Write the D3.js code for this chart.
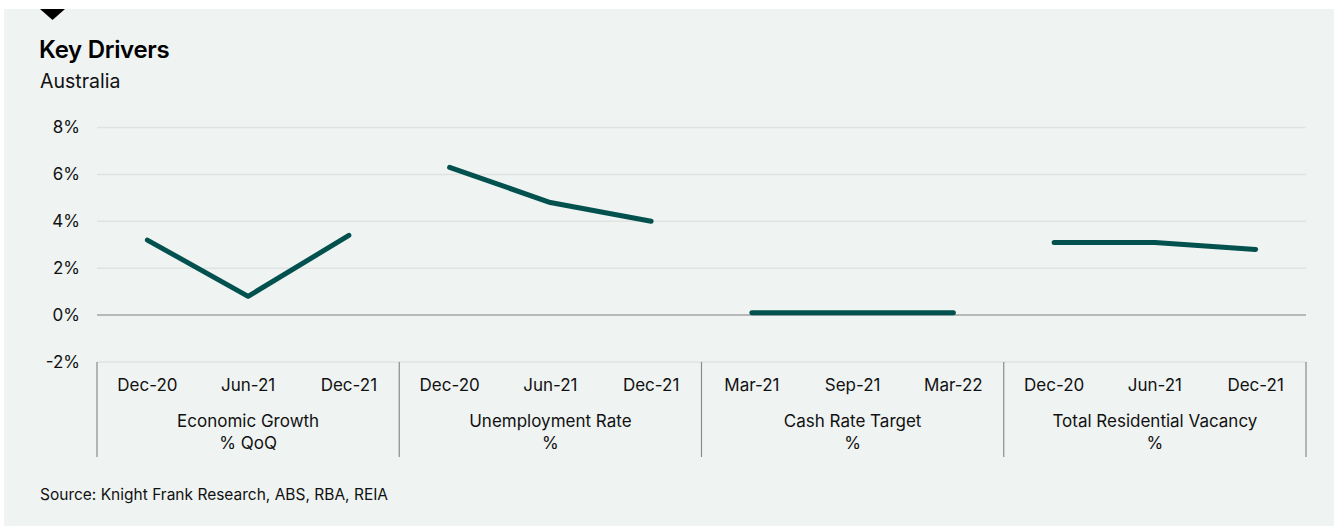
<!DOCTYPE html>
<html><head><meta charset="utf-8">
<script src="https://cdn.jsdelivr.net/npm/d3@7"></script>
<style>
html,body{margin:0;padding:0;background:#fff;}
svg{display:block;font-family:Inter,"Noto Sans",sans-serif;}
</style></head>
<body><svg id="c" width="1336" height="528"></svg>
<script>
const groups = ["Economic Growth", "Unemployment Rate", "Cash Rate Target", "Total Residential Vacancy"];
const groupUnits = ["% QoQ", "%", "%", "%"];
const periods = [
  ["Dec-20", "Jun-21", "Dec-21"],
  ["Dec-20", "Jun-21", "Dec-21"],
  ["Mar-21", "Sep-21", "Mar-22"],
  ["Dec-20", "Jun-21", "Dec-21"]
];
const economicGrowth = [3.2, 0.8, 3.4];
const unemploymentRate = [6.3, 4.8, 4.0];
const cashRateTarget = [0.1, 0.1, 0.1];
const residentialVacancy = [3.1, 3.1, 2.8];
const seriesValues = [economicGrowth, unemploymentRate, cashRateTarget, residentialVacancy];
const yTicks = [-2, 0, 2, 4, 6, 8];

const svg = d3.select("#c");
svg.append("rect").attr("x", 4).attr("y", 9).attr("width", 1330).attr("height", 517).attr("fill", "#eff3f2");
svg.append("path").attr("d", "M40,9 L65,9 L52.5,20 Z").attr("fill", "#000");

svg.append("text").attr("x", 39).attr("y", 58).attr("font-size", 24).attr("font-weight", 600).attr("letter-spacing", -0.3).attr("fill", "#000").text("Key Drivers");
svg.append("text").attr("x", 40).attr("y", 88).attr("font-size", 19.5).attr("fill", "#111").text("Australia");

const x0 = 97, x1 = 1306;
const keys = [];
groups.forEach((g, gi) => periods[gi].forEach((p, pi) => keys.push(gi + "|" + pi)));
const x = d3.scalePoint().domain(keys).range([x0, x1]).padding(0.5);
const y = d3.scaleLinear().domain([-2, 8]).range([362, 127.5]);

// y axis labels
const yAxis = d3.axisLeft(y).tickValues(yTicks).tickFormat(d => d + "%").tickSize(0).tickPadding(0);
const ga = svg.append("g").attr("transform", `translate(${x0},0)`).call(yAxis);
ga.select(".domain").remove();
ga.selectAll("text").attr("x", -17).attr("font-size", 17).attr("fill", "#111").attr("font-family", "Inter,sans-serif");
// gridlines
svg.append("g").selectAll("line").data(yTicks).join("line")
  .attr("x1", x0).attr("x2", x1)
  .attr("y1", d => y(d)).attr("y2", d => y(d))
  .attr("stroke", d => d === 0 ? "#a3a6a5" : "#e0e3e2")
  .attr("stroke-width", 1.5);

// group separators
const bounds = groups.map((g, gi) => x(gi + "|0") - x.step() / 2).concat([x1]);
svg.append("g").selectAll("line").data(bounds).join("line")
  .attr("x1", d => d).attr("x2", d => d).attr("y1", 362).attr("y2", 457)
  .attr("stroke", "#8a8c8c").attr("stroke-width", 1.2);

// period + group labels
const pl = svg.append("g");
keys.forEach(k => {
  const [gi, pi] = k.split("|").map(Number);
  pl.append("text").attr("x", x(k)).attr("y", 391).attr("text-anchor", "middle")
    .attr("font-size", 17).attr("fill", "#111").text(periods[gi][pi]);
});
groups.forEach((g, gi) => {
  const cx = x(gi + "|1");
  pl.append("text").attr("x", cx).attr("y", 427).attr("text-anchor", "middle").attr("font-size", 17).attr("fill", "#111").text(g);
  pl.append("text").attr("x", cx).attr("y", 449).attr("text-anchor", "middle").attr("font-size", 17).attr("fill", "#111").text(groupUnits[gi]);
});

// lines
const line = d3.line().x(d => x(d.k)).y(d => y(d.v));
seriesValues.forEach((vals, gi) => {
  const pts = vals.map((v, pi) => ({k: gi + "|" + pi, v}));
  svg.append("path").datum(pts).attr("d", line).attr("fill", "none")
    .attr("stroke", "#02514f").attr("stroke-width", 5).attr("stroke-linecap", "round").attr("stroke-linejoin", "round");
});

svg.append("text").attr("x", 40).attr("y", 500).attr("font-size", 15.5).attr("fill", "#111").text("Source: Knight Frank Research, ABS, RBA, REIA");
</script></body></html>
